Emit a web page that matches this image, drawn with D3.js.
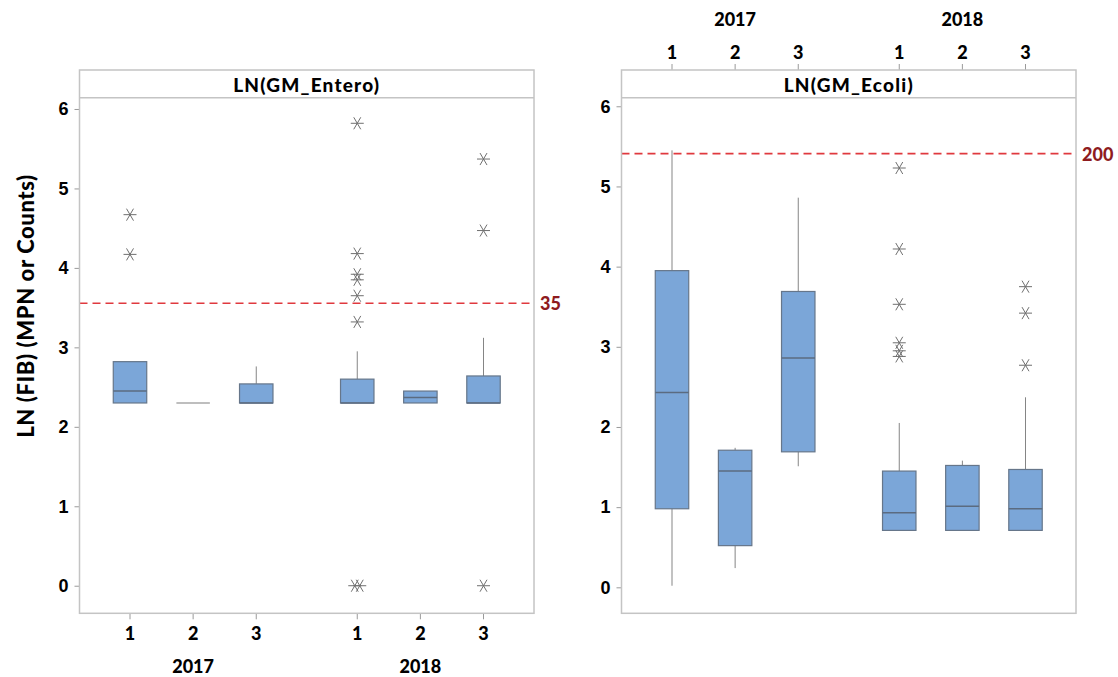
<!DOCTYPE html>
<html>
<head>
<meta charset="utf-8">
<script src="https://cdn.jsdelivr.net/npm/d3@7"></script>
<style>
  html, body { margin: 0; padding: 0; background: #fff; }
  svg { display: block; font-family: Lato, "Open Sans", sans-serif; }
</style>
</head>
<body>
<svg id="chart" width="1118" height="677"></svg>
<script>
// Grouping: sampling year × site
const years = ["2017", "2018"];
const sites = ["1", "2", "3"];

// LN(GM_Entero) box statistics, ordered 2017-1, 2017-2, 2017-3, 2018-1, 2018-2, 2018-3
const enteroLow    = [2.30, 2.30, 2.30, 2.30, 2.30, 2.30];
const enteroQ1     = [2.30, 2.30, 2.30, 2.30, 2.30, 2.30];
const enteroMedian = [2.45, 2.30, 2.30, 2.30, 2.37, 2.30];
const enteroQ3     = [2.82, 2.30, 2.54, 2.60, 2.45, 2.64];
const enteroHigh   = [2.82, 2.30, 2.76, 2.95, 2.45, 3.12];
const enteroOutliers = [
  [4.67, 4.17],
  [],
  [],
  [5.82, 4.18, 3.92, 3.85, 3.65, 3.32, 0.0, 0.0],
  [],
  [5.37, 4.47, 0.0]
];

// LN(GM_Ecoli) box statistics, same order
const ecoliLow    = [0.02, 0.24, 1.51, 0.71, 0.71, 0.71];
const ecoliQ1     = [0.98, 0.52, 1.69, 0.71, 0.71, 0.71];
const ecoliMedian = [2.43, 1.45, 2.86, 0.93, 1.01, 0.98];
const ecoliQ3     = [3.95, 1.71, 3.69, 1.45, 1.52, 1.47];
const ecoliHigh   = [5.45, 1.74, 4.86, 2.05, 1.58, 2.37];
const ecoliOutliers = [
  [],
  [],
  [],
  [5.23, 4.22, 3.53, 3.05, 2.95, 2.88],
  [],
  [3.75, 3.42, 2.77]
];

// Reference thresholds (value on the LN axis, printed label)
const enteroRef = { value: 3.555, label: "35" };
const ecoliRef  = { value: 5.41,  label: "200" };

const yTicks = [0, 1, 2, 3, 4, 5, 6];

const svg = d3.select("#chart");

const COLORS = {
  frame: "#c4c4c4",
  tick: "#9a9a9a",
  boxFill: "#7ba6d8",
  boxStroke: "#66768a",
  median: "#5b6b80",
  whisker: "#858585",
  star: "#6f6f6f",
  refLine: "#e0393e",
  refText: "#8e1b1e"
};

function buildGroups(low, q1, med, q3, high, outl) {
  const out = [];
  years.forEach((yr, i) => sites.forEach((s, j) => {
    const k = i * sites.length + j;
    out.push({ year: yr, site: s, low: low[k], q1: q1[k], median: med[k], q3: q3[k], high: high[k], outliers: outl[k] });
  }));
  return out;
}

// Asterisk marker: horizontal arm plus a steep X
const starPath = "M-6.5,0H6.5M-3.5,-6L3.5,6M-3.5,6L3.5,-6";

function drawPanel(opt) {
  const { left, right, top, headerBottom, bottom, yDomain, title, data, ref, axisSide } = opt;
  const g = svg.append("g");

  const y = d3.scaleLinear().domain(yDomain).range([bottom, headerBottom]);
  const xYear = d3.scaleBand().domain(years).range([left, right]).padding(0);
  const xSite = d3.scalePoint().domain(sites).range([0, xYear.bandwidth()]).padding(0.8);
  const cx = d => xYear(d.year) + xSite(d.site);
  const boxW = xSite.step() * 0.53;

  // y axis
  const yAxis = d3.axisLeft(y).tickValues(yTicks).tickSize(5).tickPadding(6).tickFormat(d3.format("d"));
  const ya = g.append("g").attr("transform", `translate(${left},0)`).call(yAxis);
  ya.select(".domain").remove();
  ya.selectAll(".tick line").attr("stroke", COLORS.tick);
  ya.selectAll(".tick text").attr("fill", "#000").style("font-size", "18px").style("font-weight", "900");

  // category axis (bottom or top)
  const sitePositions = data.map(d => ({ x: cx(d), site: d.site }));
  const catG = g.append("g");
  const isBottom = axisSide === "bottom";
  const edge = isBottom ? bottom : top;
  const dir = isBottom ? 1 : -1;
  catG.selectAll("line").data(sitePositions).join("line")
    .attr("x1", d => d.x).attr("x2", d => d.x)
    .attr("y1", edge).attr("y2", edge + dir * 6)
    .attr("stroke", COLORS.tick);
  catG.selectAll("text.site").data(sitePositions).join("text")
    .attr("class", "site")
    .attr("x", d => d.x).attr("y", edge + dir * (isBottom ? 20 : 18))
    .attr("text-anchor", "middle").attr("dominant-baseline", "central")
    .style("font-size", "18px").style("font-weight", "900")
    .text(d => d.site);
  catG.selectAll("text.year").data(years).join("text")
    .attr("class", "year")
    .attr("x", d => xYear(d) + xYear.bandwidth() / 2).attr("y", edge + dir * (isBottom ? 53 : 51))
    .attr("text-anchor", "middle").attr("dominant-baseline", "central")
    .style("font-size", "18px").style("font-weight", "900")
    .text(d => d);

  // whiskers
  const boxes = g.append("g");
  boxes.selectAll("line.wu").data(data.filter(d => d.high > d.q3)).join("line")
    .attr("class", "wu")
    .attr("x1", cx).attr("x2", cx)
    .attr("y1", d => y(d.q3)).attr("y2", d => y(d.high))
    .attr("stroke", COLORS.whisker).attr("stroke-width", 1);
  boxes.selectAll("line.wl").data(data.filter(d => d.low < d.q1)).join("line")
    .attr("class", "wl")
    .attr("x1", cx).attr("x2", cx)
    .attr("y1", d => y(d.q1)).attr("y2", d => y(d.low))
    .attr("stroke", COLORS.whisker).attr("stroke-width", 1);

  // boxes
  boxes.selectAll("rect").data(data).join("rect")
    .attr("x", d => cx(d) - boxW / 2)
    .attr("width", boxW)
    .attr("y", d => y(d.q3))
    .attr("height", d => Math.max(0, y(d.q1) - y(d.q3)))
    .attr("fill", COLORS.boxFill)
    .attr("stroke", d => d.q3 > d.q1 ? COLORS.boxStroke : "#a8a8a8")
    .attr("stroke-width", 1.2);

  // medians
  boxes.selectAll("line.med").data(data).join("line")
    .attr("class", "med")
    .attr("x1", d => cx(d) - boxW / 2).attr("x2", d => cx(d) + boxW / 2)
    .attr("y1", d => y(d.median)).attr("y2", d => y(d.median))
    .attr("stroke", d => d.q3 > d.q1 ? COLORS.median : "#a8a8a8").attr("stroke-width", 1.5);

  // outliers; tied values are nudged apart horizontally
  const pts = [];
  data.forEach(d => {
    const counts = d3.rollup(d.outliers, v => v.length, v => v);
    const seen = new Map();
    d.outliers.forEach(v => {
      const n = counts.get(v);
      const idx = seen.get(v) || 0;
      seen.set(v, idx + 1);
      pts.push({ x: cx(d) + (idx - (n - 1) / 2) * 5, v });
    });
  });
  g.append("g").selectAll("path").data(pts).join("path")
    .attr("d", starPath)
    .attr("transform", d => `translate(${d.x},${y(d.v)})`)
    .attr("fill", "none")
    .attr("stroke", COLORS.star)
    .attr("stroke-width", 1);

  // reference threshold
  g.append("line")
    .attr("x1", left).attr("x2", right)
    .attr("y1", y(ref.value)).attr("y2", y(ref.value))
    .attr("stroke", COLORS.refLine).attr("stroke-width", 1.6)
    .attr("stroke-dasharray", "8,5");
  g.append("text")
    .attr("x", right + 6).attr("y", y(ref.value))
    .attr("dominant-baseline", "central")
    .attr("fill", COLORS.refText)
    .style("font-size", "18px").style("font-weight", "900")
    .text(ref.label);

  // frame and header strip
  g.append("rect")
    .attr("x", left).attr("y", top)
    .attr("width", right - left).attr("height", bottom - top)
    .attr("fill", "none").attr("stroke", COLORS.frame).attr("stroke-width", 1.5);
  g.append("line")
    .attr("x1", left).attr("x2", right)
    .attr("y1", headerBottom).attr("y2", headerBottom)
    .attr("stroke", COLORS.frame).attr("stroke-width", 1.5);
  g.append("text")
    .attr("x", (left + right) / 2).attr("y", (top + headerBottom) / 2 + 1)
    .attr("text-anchor", "middle").attr("dominant-baseline", "central")
    .style("font-size", "19px").style("font-weight", "900").style("letter-spacing", "1.2px")
    .text(title);
}

drawPanel({
  left: 79.5, right: 534, top: 70, headerBottom: 97.7, bottom: 613.3,
  yDomain: [-0.347, 6.142],
  title: "LN(GM_Entero)",
  data: buildGroups(enteroLow, enteroQ1, enteroMedian, enteroQ3, enteroHigh, enteroOutliers),
  ref: enteroRef,
  axisSide: "bottom"
});

drawPanel({
  left: 621.5, right: 1076, top: 70, headerBottom: 97.7, bottom: 613.3,
  yDomain: [-0.324, 6.107],
  title: "LN(GM_Ecoli)",
  data: buildGroups(ecoliLow, ecoliQ1, ecoliMedian, ecoliQ3, ecoliHigh, ecoliOutliers),
  ref: ecoliRef,
  axisSide: "top"
});

// shared y-axis title
svg.append("text")
  .attr("transform", "translate(25,306) rotate(-90)")
  .attr("text-anchor", "middle").attr("dominant-baseline", "central")
  .style("font-size", "22px").style("font-weight", "900").style("letter-spacing", "0.6px")
  .text("LN (FIB) (MPN or Counts)");
</script>
</body>
</html>
